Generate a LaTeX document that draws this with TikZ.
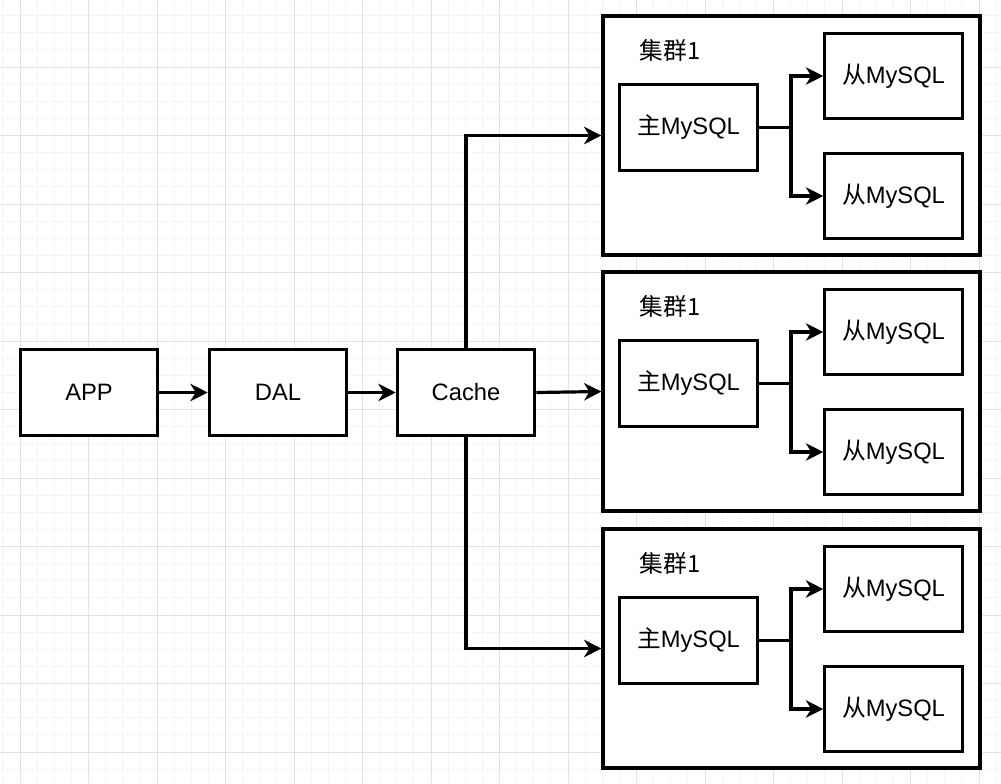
\documentclass[tikz,border=0pt]{standalone}
\usepackage{fontspec}
\setmainfont{Liberation Sans}
\newfontfamily\cjk{Noto Sans CJK SC}
\usetikzlibrary{arrows.meta}
\definecolor{gridminor}{HTML}{F5F5F5}
\definecolor{gridmajor}{HTML}{E2E2E2}
\tikzset{
  box/.style={draw=black, line width=2.4pt, fill=white, minimum width=103pt, minimum height=64pt, inner sep=0pt, font=\fontsize{17.8}{20}\selectfont},
  clusterbox/.style={draw=black, line width=2.4pt, fill=white, inner sep=0pt},
  lbl/.style={inner sep=0pt, font=\fontsize{17.8}{20}\selectfont},
  conn/.style={draw=black, line width=2.4pt, -{Stealth[length=13pt, width=13pt, inset=4pt]}},
  plain/.style={draw=black, line width=2.4pt},
}
\begin{document}
\begin{tikzpicture}[x=0.75pt, y=-0.75pt]
\useasboundingbox (0,0) rectangle (1001,783);
% grid
\foreach \k in {-1,...,57} {
  \pgfmathsetmacro{\xx}{20+17.125*\k}
  \draw[gridminor, line width=0.6pt] (\xx,0) -- (\xx,783);
}
\foreach \k in {-4,...,46} {
  \pgfmathsetmacro{\yy}{67+17.125*\k}
  \draw[gridminor, line width=0.6pt] (0,\yy) -- (1001,\yy);
}
\foreach \k in {0,...,14} {
  \pgfmathsetmacro{\xx}{20+68.5*\k}
  \draw[gridmajor, line width=0.6pt] (\xx,0) -- (\xx,783);
}
\foreach \k in {-1,...,11} {
  \pgfmathsetmacro{\yy}{67+68.5*\k}
  \draw[gridmajor, line width=0.6pt] (0,\yy) -- (1001,\yy);
}
% main chain
\node[box] (app) at (89,392.5) {APP};
\node[box] (dal) at (278,392.5) {DAL};
\node[box] (cache) at (466,392.5) {Cache};
\draw[conn] (app) -- (dal);
\draw[conn] (dal) -- (cache);
% clusters
\foreach \i/\off in {1/0, 2/256, 3/513} {
  \node[clusterbox, minimum width=282.75pt, minimum height=179.25pt] (cl\i) at (791.5,135.5+\off) {};
  \node[lbl] (t\i) at (670,50+\off) {\cjk 集群1};
  \node[box] (m\i) at (688.5,127.5+\off) {\cjk 主\fontspec{Liberation Sans}MySQL};
  \node[box] (sa\i) at (893.5,76+\off) {\cjk 从\fontspec{Liberation Sans}MySQL};
  \node[box] (sb\i) at (893.5,196+\off) {\cjk 从\fontspec{Liberation Sans}MySQL};
  \coordinate (j\i) at (791,127.5+\off);
  \draw[plain] (m\i.east) -- (j\i);
  \draw[conn] (j\i) |- (sa\i.west);
  \draw[conn] (j\i) |- (sb\i.west);
}
\draw[conn] (cache.north) |- (cl1.west);
\draw[conn] (cache.east) -- (cl2.west);
\draw[conn] (cache.south) |- (cl3.west);
\end{tikzpicture}
\end{document}
